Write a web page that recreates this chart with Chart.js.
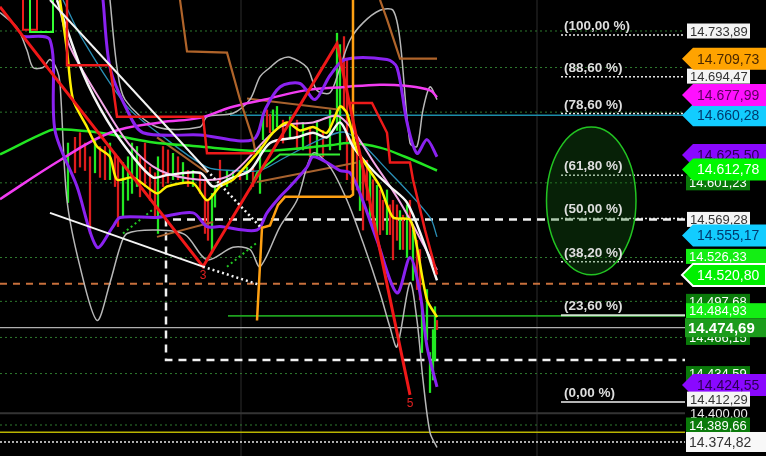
<!DOCTYPE html>
<html>
<head>
<meta charset="utf-8">
<title>Chart</title>
<script src="https://cdn.jsdelivr.net/npm/chart.js@4.4.1/dist/chart.umd.min.js"></script>
<style>
  html, body { margin: 0; padding: 0; background: #000; }
  #wrap { position: relative; width: 766px; height: 456px; }
</style>
</head>
<body>
<div id="wrap"><canvas id="chart01"></canvas></div>
<script>
// visible price range and bar range
const yMin = 14362.58, yMax = 14760.97;
const xMax = 137;

// moving averages / bands (x = bar index)
const magX = [0, 12, 22, 32, 40, 46, 53, 61, 69, 76, 81, 86, 87.4];
const magY = [14587, 14621, 14645, 14654, 14658, 14667, 14674, 14682, 14685, 14687, 14686, 14682, 14676];
const greenX = [0, 10, 12, 20, 30, 40, 52, 66, 70, 76, 81, 87.4];
const greenY = [14626, 14647, 14648, 14645, 14637, 14633, 14629, 14634, 14636, 14632, 14624, 14612];
const tealX = [12.6, 16.6, 25.4, 33.4, 41.4, 46.6, 52, 56, 64, 69.4, 78, 86, 87.4];
const tealY = [14761, 14726, 14668, 14639, 14615, 14612, 14612, 14621, 14639, 14645, 14610, 14571, 14554];
const whiteX = [11.4, 16.6, 21.4, 26.6, 30.6, 33.4, 40, 42.6, 46, 50, 54, 59.4, 62.6, 65.4, 68, 70.6, 74.6, 78, 81.4, 84.6, 87.4];
const whiteY = [14761, 14697, 14656, 14624, 14606, 14608, 14610, 14598, 14605, 14612, 14636, 14641, 14645, 14641, 14654, 14633, 14612, 14598, 14584, 14551, 14516];
const pinkX = [12, 14, 20, 26, 32, 40, 46, 56, 62.6, 68, 75.4, 80.6, 87.4];
const pinkY = [14752, 14720, 14674, 14634, 14612, 14604, 14608, 14650, 14654, 14659, 14615, 14580, 14525];
const yellowX = [12, 13.4, 14.6, 17.4, 19.4, 22, 23.4, 26.6, 31.4, 33.4, 38.6, 41.4, 44, 46.6, 52, 54.6, 57.4, 60, 62.6, 65.4, 68, 69.4, 71.4, 76, 78.6, 82, 83.4, 85.4, 87.4];
const yellowY = [14761, 14717, 14674, 14650, 14633, 14624, 14604, 14606, 14592, 14598, 14601, 14586, 14598, 14604, 14630, 14645, 14654, 14647, 14650, 14645, 14668, 14662, 14630, 14598, 14571, 14569, 14545, 14499, 14484];
const purpleLoX = [4.6, 10, 11, 15.4, 19.4, 22.6, 24, 31.4, 38.6, 41.4, 44, 51.4, 53.4, 56, 58, 61.4, 62.6, 65.4, 68, 70, 72, 75.4, 79.4, 82, 84, 85.4, 87.4];
const purpleLoY = [14729, 14726, 14647, 14598, 14545, 14563, 14571, 14571, 14575, 14563, 14563, 14560, 14575, 14589, 14598, 14615, 14624, 14619, 14612, 14610, 14592, 14551, 14505, 14536, 14505, 14458, 14423];
const purpleHiX = [20.6, 22, 25.4, 28.6, 40, 50.6, 53, 56, 60, 63, 66, 69, 77.4, 79.4, 81.4, 83.4, 85.4, 87.4];
const purpleHiY = [14761, 14702, 14665, 14645, 14643, 14639, 14665, 14685, 14688, 14674, 14695, 14709, 14709, 14702, 14654, 14627, 14639, 14624];
const grayLoX = [0, 3.4, 5.4, 6.6, 8.6, 10, 11.4, 12, 13.4, 16, 19.4, 22, 24, 25.4, 31.4, 37, 41.4, 46.6, 50, 52, 56, 59.4, 62.6, 66, 69.4, 72.6, 76, 78, 79.4, 82, 83.4, 84.6, 86, 87.4];
const grayLoY = [14750, 14737, 14717, 14702, 14702, 14709, 14700, 14688, 14586, 14528, 14481, 14514, 14545, 14557, 14560, 14556, 14534, 14545, 14543, 14528, 14563, 14586, 14627, 14615, 14586, 14549, 14505, 14475, 14458, 14514, 14481, 14429, 14383, 14370];
const grayHiX = [22, 23.4, 25, 31.4, 40, 41.4, 46.6, 50, 52, 54, 56, 58, 61.4, 63.4, 66, 68, 70, 72.6, 76, 78.6, 80, 82, 83.4, 84.6, 86, 87.4];
const grayHiY = [14761, 14702, 14674, 14650, 14650, 14659, 14662, 14674, 14694, 14702, 14709, 14711, 14702, 14682, 14680, 14702, 14726, 14741, 14752, 14752, 14726, 14636, 14633, 14665, 14685, 14674];

// step lines
const orangeX = [51.4, 52.4, 54, 55.6, 57, 70, 70.6, 70.6];
const orangeY = [14481, 14562, 14564, 14582, 14589, 14589, 14591, 14761];
const brownX = [36, 37.4, 45.4, 48, 50.6, 51];
const brownY = [14761, 14716, 14715, 14674, 14639, 14630];
const brown2X = [76, 77.4, 80, 87.4];
const brown2Y = [14761, 14744, 14709.73, 14709.73];
const redStepX = [13.4, 13.4, 22, 23.4, 24, 40.6, 41.4, 51];
const redStepY = [14761, 14704, 14704, 14659, 14659, 14659, 14627, 14627];
const redStep2X = [70, 74.4, 77.4, 78, 82, 82.6, 85, 87.4];
const redStep2Y = [14671, 14671, 14645, 14619, 14619, 14604, 14560, 14521];
const redTopX = [4.6, 4.6, 7.4, 7.4];
const redTopY = [14761, 14735, 14735, 14761];
const limeStepX = [6, 6, 10.6, 10.6];
const limeStepY = [14761, 14733, 14733, 14761];
const limeStep2X = [50, 51.4, 56, 68];
const limeStep2Y = [14595, 14610, 14626, 14626];

// zigzag
const zigX = [0, 40.6, 67.4, 82];
const zigY = [14755, 14528, 14723, 14416];
const zigTags = ["", "3", "", "5"];

// trend lines [x1, y1, x2, y2]
const brownLines = [[31.4, 14641, 41.4, 14610], [49.4, 14675, 68, 14665], [51.4, 14602, 71.4, 14619], [31.4, 14554, 42.6, 14567]];
const whiteLines = [[10, 14761, 41.4, 14612], [10, 14575, 40.6, 14528]];
const whiteDotLines = [[41.4, 14612, 52, 14563], [40.6, 14528, 52, 14512]];
const greenDotLines = [[24.6, 14557, 30.6, 14578], [45.4, 14528, 51.4, 14549]];

// candles
const candleX = [13.6, 15, 16, 17, 18, 19, 20, 21, 22, 23, 23.6, 24.6, 25.6, 26.4, 27.4, 28, 29, 30, 31, 31.6, 32.6, 33.6, 34.6, 35.6, 36.6, 37.6, 38.6, 40, 41, 41.6, 42.4, 43, 44, 45.4, 46.6, 48, 49.4, 50.6, 52, 52.6, 53.4, 54, 54.6, 55.4, 56.6, 58, 59.4, 60.6, 62, 63.4, 64.6, 66, 67.4, 68, 68.8, 69.4, 70.4, 71.4, 72, 72.6, 73.4, 74, 74.6, 75.4, 76, 76.6, 77.4, 78, 78.6, 79.4, 80, 80.6, 81.4, 82, 82.6, 83.4, 84, 84.4, 85.4, 86, 86.6, 87, 87.4];
const candleHi = [14636, 14641, 14645, 14636, 14624, 14639, 14633, 14633, 14636, 14627, 14624, 14619, 14624, 14636, 14633, 14624, 14636, 14615, 14610, 14624, 14633, 14630, 14627, 14624, 14619, 14612, 14612, 14610, 14604, 14586, 14592, 14598, 14621, 14612, 14612, 14612, 14615, 14615, 14633, 14662, 14665, 14661, 14665, 14668, 14656, 14659, 14656, 14654, 14650, 14654, 14647, 14665, 14732, 14722, 14729, 14709, 14639, 14630, 14621, 14612, 14621, 14612, 14604, 14599, 14595, 14586, 14595, 14582, 14586, 14582, 14577, 14573, 14582, 14586, 14560, 14551, 14543, 14496, 14508, 14453, 14473, 14493, 14481];
const candleLo = [14584, 14610, 14615, 14612, 14557, 14610, 14606, 14604, 14604, 14598, 14563, 14571, 14586, 14592, 14598, 14589, 14598, 14586, 14571, 14557, 14598, 14601, 14604, 14604, 14601, 14598, 14598, 14592, 14557, 14551, 14540, 14580, 14598, 14598, 14604, 14604, 14604, 14598, 14592, 14639, 14650, 14645, 14647, 14650, 14636, 14641, 14630, 14630, 14624, 14624, 14624, 14630, 14647, 14630, 14665, 14604, 14595, 14595, 14577, 14560, 14586, 14569, 14560, 14551, 14556, 14560, 14556, 14556, 14534, 14551, 14543, 14543, 14536, 14543, 14516, 14508, 14499, 14453, 14464, 14418, 14429, 14446, 14473];
const candleDir = ("udddduddud" + "duuuuddddu" + "ddudududdd" + "uuduududuu" + "dduudududu" +
  "duuuddddud" + "dududduddd" + "udududduuu" + "uud").split("");

// horizontal levels
const gridLevels = [14733.89, 14702, 14663, 14601.23, 14536, 14497.68, 14466.15, 14434.59, 14389.66];
const tealLevel = 14660.28, orangeLevel = 14513, greenLevel = 14484.93, grayLevel = 14474.69;
const darkLevel = 14400, yellowLevel = 14383.4, whiteDotLevel = 14374.82;
const boxTop = 14569.28, boxBottom = 14446.5, boxLeft = 33.2;
const vLines = [48.2, 107.4];

// fibonacci retracement
const fibPrices = [14730.4, 14693.9, 14661.8, 14607.9, 14570.1, 14532.3, 14485.5, 14409.8];
const fibLabels = ["(100,00 %)", "(88,60 %)", "(78,60 %)", "(61,80 %)", "(50,00 %)", "(38,20 %)", "(23,60 %)", "(0,00 %)"];
const fibStart = 112.2;

// price tags on the right
const tagValues = [14733.89, 14694.47, 14709.73, 14660.28, 14677.99, 14601.23, 14625.50, 14612.78, 14569.28, 14555.17, 14526.33, 14520.80, 14497.68, 14466.15, 14484.93, 14474.69, 14434.59, 14424.55, 14412.29, 14400.00, 14389.66, 14374.82];
const tagKinds = ["white", "white", "orange", "cyan", "magenta", "dkgreen", "purple", "lime", "white", "cyan", "limebox", "limearrow", "dkgreen", "dkgreen", "limebox", "main", "dkgreen", "purple", "white", "plain", "dkgreen", "whitebig"];

function pts(xs, ys) {
  return xs.map((x, i) => ({ x: x, y: ys[i] }));
}
function line(xs, ys, color, width, extra) {
  return Object.assign({
    type: "line", data: pts(xs, ys), borderColor: color, borderWidth: width,
    pointRadius: 0, fill: false, tension: 0
  }, extra || {});
}
function seg(s, color, width, extra) {
  return line([s[0], s[2]], [s[1], s[3]], color, width, extra);
}
function hline(p, x0, color, width, dash) {
  return line([x0, xMax], [p, p], color, width, { borderDash: dash || [] });
}
function fmt(v) {
  const parts = v.toFixed(2).split(".");
  return parts[0].replace(/\B(?=(\d{3})+(?!\d))/g, ".") + "," + parts[1];
}

// bottom-most first
const layers = [];
vLines.forEach((x) => layers.push(line([x, x], [yMin, yMax], "#2c2c2c", 1)));
gridLevels.forEach((p) => layers.push(hline(p, 0, "#2e7a2e", 1, [2, 3])));
layers.push(hline(grayLevel, 0, "#b0b0b0", 1.2));
layers.push(hline(darkLevel, 0, "#343434", 2));
layers.push(hline(yellowLevel, 0, "#b8b400", 1.5));
layers.push(hline(whiteDotLevel, 0, "#e8e8e8", 1.5, [2, 2]));
layers.push(hline(orangeLevel, 0, "#c8703c", 2, [7, 6]));
layers.push(hline(tealLevel, 46, "#1c8ca8", 1.5));
layers.push(hline(greenLevel, 45.6, "#1ea01e", 1.8));
layers.push(line([xMax, boxLeft, boxLeft, xMax], [boxTop, boxTop, boxBottom, boxBottom], "#f0f0f0", 2.5, { borderDash: [8, 6] }));
fibPrices.forEach((p, i) => {
  if (i === 6) layers.push(hline(p, fibStart, "#cfe6cf", 2));
  else if (i === 7) layers.push(hline(p, fibStart, "#f0f0f0", 1.5));
  else layers.push(hline(p, fibStart, "#e8e8e8", 1.5, [2, 2]));
});
layers.push({
  type: "bar",
  data: candleX.map((x, i) => ({ x: x, y: [candleLo[i], candleHi[i]] })),
  backgroundColor: candleDir.map((d) => (d === "u" ? "#22e822" : "#dd1c1c")),
  barThickness: 1.6, grouped: false, borderWidth: 0
});
greenDotLines.forEach((s) => layers.push(seg(s, "#22c822", 2, { borderDash: [2, 3] })));
brownLines.forEach((s) => layers.push(seg(s, "#a8622e", 2)));
layers.push(line(grayLoX, grayLoY, "#b8b8b8", 1.5, { tension: 0.3 }));
layers.push(line(grayHiX, grayHiY, "#b8b8b8", 1.5, { tension: 0.3 }));
layers.push(line(tealX, tealY, "#2a90b8", 1.3, { tension: 0.3 }));
layers.push(line(greenX, greenY, "#22e622", 2.5, { tension: 0.4 }));
layers.push(line(magX, magY, "#f23cf2", 2.5, { tension: 0.4 }));
layers.push(line(purpleHiX, purpleHiY, "#8a22f0", 3, { tension: 0.3 }));
layers.push(line(purpleLoX, purpleLoY, "#8a22f0", 3, { tension: 0.3 }));
layers.push(line(brownX, brownY, "#b0642a", 2.2));
layers.push(line(brown2X, brown2Y, "#b0642a", 2.2));
layers.push(line(orangeX, orangeY, "#ffa012", 2.5));
layers.push(line(pinkX, pinkY, "#f4a8e8", 2, { tension: 0.3 }));
layers.push(line(whiteX, whiteY, "#f6f6f6", 2.5, { tension: 0.3 }));
layers.push(line(yellowX, yellowY, "#fff000", 2.5, { tension: 0.25 }));
layers.push(line(redStepX, redStepY, "#ee1a1a", 2.5));
layers.push(line(redStep2X, redStep2Y, "#ee1a1a", 2.5));
layers.push(line(redTopX, redTopY, "#ee1a1a", 2));
layers.push(line(limeStepX, limeStepY, "#33ff33", 2));
layers.push(line(limeStep2X, limeStep2Y, "#33ee33", 2));
layers.push(line(zigX, zigY, "#f01818", 3));
whiteLines.forEach((s) => layers.push(seg(s, "#f4f4f4", 2)));
whiteDotLines.forEach((s) => layers.push(seg(s, "#f4f4f4", 2.5, { borderDash: [2, 3] })));

const overlayPlugin = {
  id: "overlay",
  afterDatasetsDraw(chart) {
    const ctx = chart.ctx, xs = chart.scales.x, ys = chart.scales.y;
    ctx.save();
    // green ellipse
    const x1 = xs.getPixelForValue(109.3), x2 = xs.getPixelForValue(127.2);
    const y1 = ys.getPixelForValue(14650), y2 = ys.getPixelForValue(14521);
    ctx.beginPath();
    ctx.ellipse((x1 + x2) / 2, (y1 + y2) / 2, (x2 - x1) / 2, (y2 - y1) / 2, 0, 0, Math.PI * 2);
    ctx.fillStyle = "rgba(24,110,24,0.30)";
    ctx.fill();
    ctx.strokeStyle = "#22c422";
    ctx.lineWidth = 1.5;
    ctx.stroke();
    // fib labels
    ctx.font = "bold 13.5px Arial, 'Liberation Sans', sans-serif";
    ctx.fillStyle = "#dedede";
    ctx.textBaseline = "alphabetic";
    ctx.textAlign = "left";
    fibPrices.forEach((p, i) => {
      ctx.fillText(fibLabels[i], xs.getPixelForValue(fibStart) + 3, ys.getPixelForValue(p) - 5);
    });
    // zigzag wave numbers
    ctx.font = "12px Arial, 'Liberation Sans', sans-serif";
    ctx.fillStyle = "#e02020";
    ctx.textAlign = "center";
    ctx.textBaseline = "top";
    zigTags.forEach((t, i) => {
      if (t) ctx.fillText(t, xs.getPixelForValue(zigX[i]), ys.getPixelForValue(zigY[i]) + 3);
    });
    ctx.restore();
  }
};

const tagStyles = {
  white: { bg: "#f4f4f4", fg: "#333", left: 687, right: 750, h: 15, font: "13px" },
  whitebig: { bg: "#f8f8f8", fg: "#333", left: 686, right: 766, h: 20, font: "14px" },
  plain: { bg: null, fg: "#eeeeee", left: 687, right: 750, h: 14, font: "13px" },
  dkgreen: { bg: "#0a7a0a", fg: "#ffffff", left: 686, right: 750, h: 15, font: "13px" },
  limebox: { bg: "#14ee14", fg: "#ffffff", left: 686, right: 766, h: 15, font: "13px" },
  main: { bg: "#1c9c1c", fg: "#ffffff", left: 685, right: 766, h: 19, font: "bold 15px", front: true },
  orange: { bg: "#ffa300", fg: "#4a2800", arrow: true, font: "14px" },
  magenta: { bg: "#ff10ff", fg: "#5a005a", arrow: true, font: "14px" },
  cyan: { bg: "#12ccff", fg: "#003a6e", arrow: true, font: "14px" },
  purple: { bg: "#8a08ff", fg: "#2a0050", arrow: true, font: "14px" },
  lime: { bg: "#00f800", fg: "#ffffff", arrow: true, font: "14px" },
  limearrow: { bg: "#00f000", fg: "#ffffff", arrow: true, outline: "#ffffff", font: "14px" }
};
const arrowH = 22;

function tagHeight(st) {
  return st.arrow ? arrowH : st.h;
}

const tagsPlugin = {
  id: "tags",
  afterDraw(chart) {
    const ctx = chart.ctx, ys = chart.scales.y;
    const ypos = tagValues.map((v) => ys.getPixelForValue(v));
    // full-width boxes step up above a following arrow / main tag they would hide under
    tagValues.forEach((v, i) => {
      const st = tagStyles[tagKinds[i]];
      if (st.arrow || st.right !== 766 || st.front) return;
      for (let j = i + 1; j < tagValues.length; j++) {
        const sj = tagStyles[tagKinds[j]];
        if (!(sj.arrow || sj.front)) continue;
        const topJ = ypos[j] - tagHeight(sj) / 2;
        if (ypos[i] + st.h / 2 > topJ && ypos[i] < ypos[j]) ypos[i] = topJ - st.h / 2;
      }
    });
    ctx.save();
    tagValues.forEach((v, i) => {
      const st = tagStyles[tagKinds[i]];
      const y = ypos[i];
      ctx.font = st.font + " Arial, 'Liberation Sans', sans-serif";
      ctx.textBaseline = "middle";
      ctx.textAlign = "left";
      if (st.arrow) {
        ctx.beginPath();
        ctx.moveTo(682, y);
        ctx.lineTo(693, y - arrowH / 2);
        ctx.lineTo(766, y - arrowH / 2);
        ctx.lineTo(766, y + arrowH / 2);
        ctx.lineTo(693, y + arrowH / 2);
        ctx.closePath();
        ctx.fillStyle = st.bg;
        ctx.fill();
        if (st.outline) {
          ctx.strokeStyle = st.outline;
          ctx.lineWidth = 2;
          ctx.stroke();
        }
        ctx.fillStyle = st.fg;
        ctx.fillText(fmt(v), 697, y + 1);
      } else {
        if (st.bg) {
          ctx.fillStyle = st.bg;
          ctx.fillRect(st.left, y - st.h / 2, st.right - st.left, st.h);
        }
        ctx.fillStyle = st.fg;
        ctx.fillText(fmt(v), st.left + 3, y + 1);
      }
    });
    ctx.restore();
  }
};

const ctx01 = document.getElementById("chart01").getContext("2d");
const myChart01 = new Chart(ctx01, {
  type: "line",
  data: { datasets: layers.reverse() },
  options: {
    responsive: true,
    maintainAspectRatio: false,
    animation: false,
    devicePixelRatio: 1,
    layout: { padding: { left: 0, right: 81, top: 0, bottom: 0 } },
    plugins: { legend: { display: false }, tooltip: { enabled: false } },
    scales: {
      x: { type: "linear", min: 0, max: xMax, display: false, offset: false },
      y: { type: "linear", min: yMin, max: yMax, display: false }
    }
  },
  plugins: [overlayPlugin, tagsPlugin]
});
</script>
</body>
</html>
